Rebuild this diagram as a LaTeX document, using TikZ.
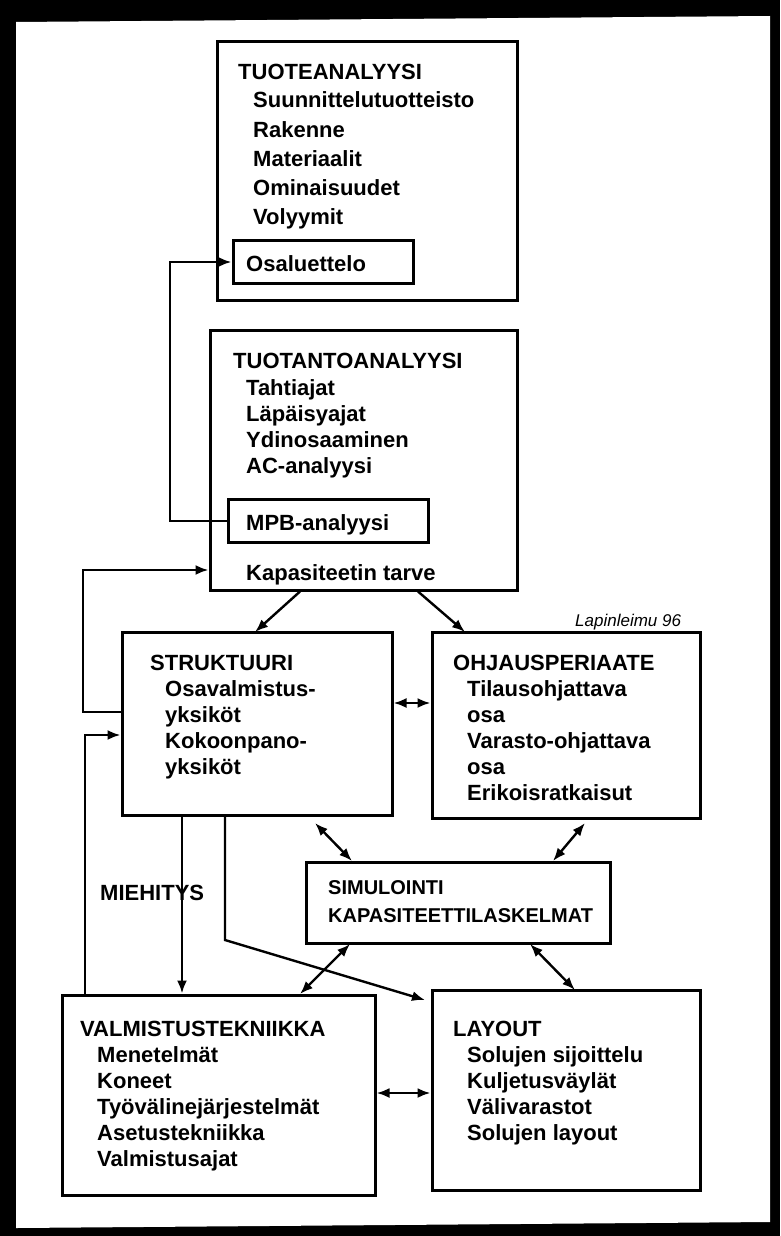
\documentclass[tikz,border=0pt]{standalone}
\usepackage{fontspec}
\setmainfont{Liberation Sans}
\usetikzlibrary{arrows.meta}
\begin{document}
\begin{tikzpicture}[x=1pt,y=-1pt,
  box/.style={draw,line width=3pt,inner sep=0pt},
  t/.style={anchor=base west,inner sep=0pt,font=\fontsize{22}{22}\selectfont\bfseries},
  ts/.style={anchor=base west,inner sep=0pt,font=\fontsize{20}{20}\selectfont\bfseries},
  con/.style={line width=2.4pt,-{Latex[length=13pt,width=10pt]}},
  dcon/.style={line width=2.4pt,{Latex[length=13pt,width=10pt]}-{Latex[length=13pt,width=10pt]}}]
\fill[black] (0,0) rectangle (780,1236);
\fill[white] (16,22) -- (770,16) -- (770,1222) -- (16,1228) -- cycle;
\useasboundingbox (0,0) rectangle (780,1236);
% boxes
\node[box,minimum width=300pt,minimum height=258pt] (tuote) at (367,171) {};
\node[box,minimum width=180pt,minimum height=43pt] (osa) at (323,262) {};
\node[box,minimum width=307pt,minimum height=260pt] (tuot) at (363.5,460) {};
\node[box,minimum width=200pt,minimum height=43pt] (mpb) at (328,521) {};
\node[box,minimum width=270pt,minimum height=183pt] (str) at (257,723.5) {};
\node[box,minimum width=268pt,minimum height=186pt] (ohj) at (566,725) {};
\node[box,minimum width=304pt,minimum height=81pt] (sim) at (458,902.5) {};
\node[box,minimum width=313pt,minimum height=200pt] (val) at (218.5,1095) {};
\node[box,minimum width=268pt,minimum height=200pt] (lay) at (566,1090) {};
% texts
\node[t] at (238,80) {TUOTEANALYYSI};
\node[t] at (253,108) {Suunnittelutuotteisto};
\node[t] at (253,137) {Rakenne};
\node[t] at (253,166) {Materiaalit};
\node[t] at (253,195) {Ominaisuudet};
\node[t] at (253,224) {Volyymit};
\node[t] at (246,271) {Osaluettelo};
\node[t] at (233,368) {TUOTANTOANALYYSI};
\node[t] at (246,395) {Tahtiajat};
\node[t] at (246,421) {Läpäisyajat};
\node[t] at (246,447) {Ydinosaaminen};
\node[t] at (246,473) {AC-analyysi};
\node[t] at (246,530) {MPB-analyysi};
\node[t] at (246,580) {Kapasiteetin tarve};
\node[anchor=base west,inner sep=0pt,font=\fontsize{17}{17}\selectfont\itshape] at (575,626) {Lapinleimu 96};
\node[t] at (150,670) {STRUKTUURI};
\node[t] at (165,696) {Osavalmistus-};
\node[t] at (165,722) {yksiköt};
\node[t] at (165,748) {Kokoonpano-};
\node[t] at (165,774) {yksiköt};
\node[t] at (453,670) {OHJAUSPERIAATE};
\node[t] at (467,696) {Tilausohjattava};
\node[t] at (467,722) {osa};
\node[t] at (467,748) {Varasto-ohjattava};
\node[t] at (467,774) {osa};
\node[t] at (467,800) {Erikoisratkaisut};
\node[ts] at (328,894) {SIMULOINTI};
\node[ts] at (328,922) {KAPASITEETTILASKELMAT};
\node[t] at (100,900) {MIEHITYS};
\node[t] at (80,1036) {VALMISTUSTEKNIIKKA};
\node[t] at (97,1062) {Menetelmät};
\node[t] at (97,1088) {Koneet};
\node[t] at (97,1114) {Työvälinejärjestelmät};
\node[t] at (97,1140) {Asetustekniikka};
\node[t] at (97,1166) {Valmistusajat};
\node[t] at (453,1036) {LAYOUT};
\node[t] at (467,1062) {Solujen sijoittelu};
\node[t] at (467,1088) {Kuljetusväylät};
\node[t] at (467,1114) {Välivarastot};
\node[t] at (467,1140) {Solujen layout};
% connectors
\draw[con] (mpb.west) -- (170,521) |- (osa.west);
\draw[con] (str.west |- 0,712) -- (83,712) |- (tuot.west |- 0,570);
\draw[con] (val.north -| 85,0) |- (str.west |- 0,735);
\draw[con] (tuot.south -| 300,0) -- (255,632);
\draw[con] (tuot.south -| 418,0) -- (465,632);
\draw[dcon] (str.east |- 0,703) -- (ohj.west |- 0,703);
\draw[dcon] (315,823) -- (352,861);
\draw[dcon] (585,823) -- (553,861);
\draw[con] (str.south -| 182,0) -- (val.north -| 182,0);
\draw[con] (str.south -| 225,0) -- (225,940) -- (425,1000);
\draw[dcon] (350,944) -- (300,994);
\draw[dcon] (530,944) -- (575,990);
\draw[dcon] (val.east |- 0,1093) -- (lay.west |- 0,1093);
\end{tikzpicture}
\end{document}
